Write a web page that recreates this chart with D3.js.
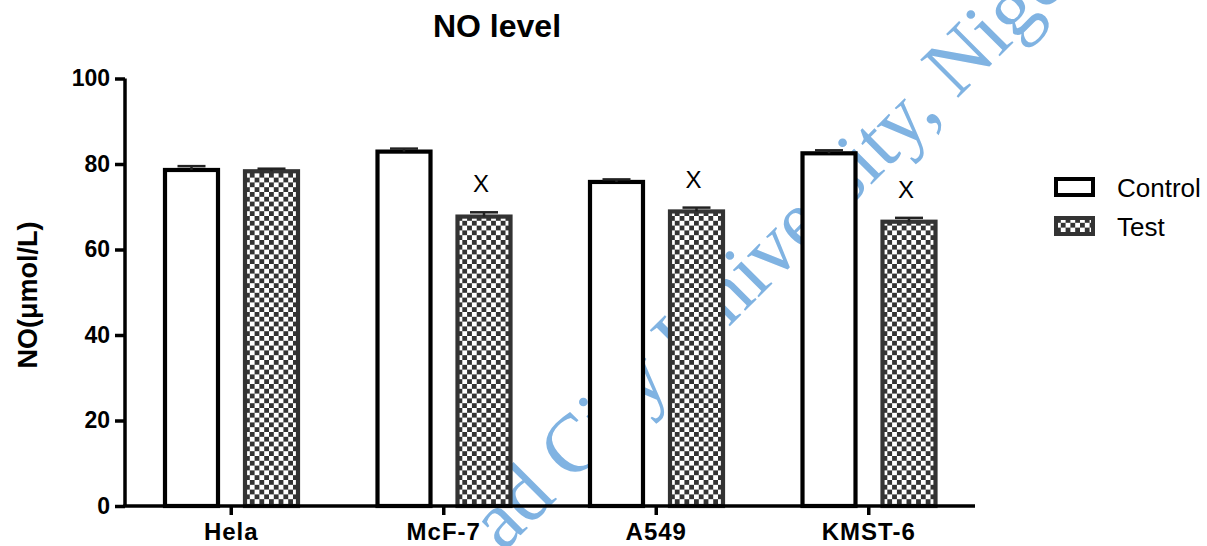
<!DOCTYPE html>
<meta charset="utf-8">
<script src="https://d3js.org/d3.v7.min.js"></script>
<style>
  body { margin: 0; background: #fff; }
  text { font-family: "Liberation Sans", Arial, Helvetica, sans-serif; }
</style>
<div id="my_dataviz"></div>
<script>

// data
var groups = ["Hela", "McF-7", "A549", "KMST-6"];
var seriesNames = ["Control", "Test"];
var controlValues = [78.6, 82.9, 75.8, 82.5];
var controlSem = [0.9, 0.7, 0.6, 0.7];
var testValues = [78.3, 67.7, 68.9, 66.5];
var testSem = [0.6, 1.0, 0.9, 0.9];
var testMarks = ["", "X", "X", "X"];
var yTicks = [0, 20, 40, 60, 80, 100];

var width = 1207, height = 546;

var svg = d3.select("#my_dataviz")
  .append("svg")
    .attr("width", width)
    .attr("height", height);

// checkerboard fill for the Test bars
var cell = 4.8;
var pat = svg.append("defs").append("pattern")
    .attr("id", "checker")
    .attr("patternUnits", "userSpaceOnUse")
    .attr("width", cell * 2)
    .attr("height", cell * 2);
pat.append("rect").attr("width", cell * 2).attr("height", cell * 2).attr("fill", "#fff");
pat.append("rect").attr("width", cell).attr("height", cell).attr("fill", "#333");
pat.append("rect").attr("x", cell).attr("y", cell).attr("width", cell).attr("height", cell).attr("fill", "#333");

// watermark from the source page, sits behind the bars
svg.append("text")
  .attr("transform", "translate(503,553) rotate(-45)")
  .style("font-family", "'Liberation Serif', 'Times New Roman', serif")
  .style("font-size", "82px")
  .attr("fill", "#80b3e2")
  .text("ad City University, Nigeria");

// scales
var x = d3.scaleBand()
  .domain(groups)
  .range([125, 975])
  .padding(0);

var xSub = d3.scaleBand()
  .domain(seriesNames)
  .range([40, 173])
  .paddingInner(0.3375);

var y = d3.scaleLinear()
  .domain([0, 100])
  .range([506, 78.5]);

var rows = groups.map(function(g, i) {
  return {
    group: g,
    bars: [
      {key: "Control", value: controlValues[i], sem: controlSem[i], mark: ""},
      {key: "Test", value: testValues[i], sem: testSem[i], mark: testMarks[i]}
    ]
  };
});

// bars
var gGroup = svg.append("g").selectAll("g")
  .data(rows)
  .enter()
  .append("g")
    .attr("transform", function(d) { return "translate(" + x(d.group) + ",0)"; });

var bar = gGroup.selectAll("g")
  .data(function(d) { return d.bars; })
  .enter()
  .append("g");

bar.append("rect")
    .attr("x", function(d) { return xSub(d.key); })
    .attr("y", function(d) { return y(d.value); })
    .attr("width", xSub.bandwidth())
    .attr("height", function(d) { return y(0) - y(d.value); })
    .attr("fill", function(d) { return d.key == "Test" ? "url(#checker)" : "#fff"; })
    .attr("stroke", function(d) { return d.key == "Test" ? "#333" : "#000"; })
    .attr("stroke-width", 4.2);

// error bars (upper only)
bar.append("line")
    .attr("x1", function(d) { return xSub(d.key) + xSub.bandwidth() / 2; })
    .attr("x2", function(d) { return xSub(d.key) + xSub.bandwidth() / 2; })
    .attr("y1", function(d) { return y(d.value); })
    .attr("y2", function(d) { return y(d.value + d.sem); })
    .attr("stroke", "#222")
    .attr("stroke-width", 2.5);
bar.append("line")
    .attr("x1", function(d) { return xSub(d.key) + xSub.bandwidth() / 2 - 14; })
    .attr("x2", function(d) { return xSub(d.key) + xSub.bandwidth() / 2 + 14; })
    .attr("y1", function(d) { return y(d.value + d.sem); })
    .attr("y2", function(d) { return y(d.value + d.sem); })
    .attr("stroke", "#222")
    .attr("stroke-width", 2.5);

// significance marks
bar.append("text")
    .attr("x", function(d) { return xSub(d.key) + xSub.bandwidth() / 2 - 3; })
    .attr("y", function(d) { return y(d.value + d.sem) - 20; })
    .attr("text-anchor", "middle")
    .attr("font-size", "24px")
    .attr("fill", "#000")
    .text(function(d) { return d.mark; });

// Y axis
var yAxis = svg.append("g")
  .attr("transform", "translate(125,0)")
  .call(d3.axisLeft(y).tickValues(yTicks).tickSize(10).tickPadding(5));
yAxis.select(".domain").attr("stroke-width", 3.5).attr("d", "M0," + y(0) + "V" + y(100));
yAxis.selectAll(".tick line").attr("stroke-width", 3.5);
yAxis.selectAll(".tick text")
  .attr("font-size", "23px")
  .attr("font-weight", "bold")
  .attr("fill", "#000");

// X axis
var xAxis = svg.append("g")
  .attr("transform", "translate(0," + y(0) + ")")
  .call(d3.axisBottom(x).tickSize(9).tickPadding(8));
xAxis.select(".domain").attr("stroke-width", 3.5).attr("d", "M123.25,0H975");
xAxis.selectAll(".tick line").attr("stroke-width", 3.5);
xAxis.selectAll(".tick text")
  .attr("font-size", "24px")
  .attr("font-weight", "bold")
  .attr("letter-spacing", "1px")
  .attr("fill", "#000");

// title and axis label
svg.append("text")
  .attr("x", 497)
  .attr("y", 37)
  .attr("text-anchor", "middle")
  .attr("font-size", "32px")
  .attr("font-weight", "bold")
  .text("NO level");

svg.append("text")
  .attr("transform", "translate(37," + 295 + ") rotate(-90)")
  .attr("text-anchor", "middle")
  .attr("font-size", "27px")
  .attr("font-weight", "bold")
  .text("NO(μmol/L)");

// legend
var legend = svg.append("g").selectAll("g")
  .data(seriesNames)
  .enter()
  .append("g")
    .attr("transform", function(d, i) { return "translate(1056," + (179 + i * 39) + ")"; });
legend.append("rect")
  .attr("width", 37)
  .attr("height", 16)
  .attr("fill", function(d) { return d == "Test" ? "url(#checker)" : "#fff"; })
  .attr("stroke", function(d) { return d == "Test" ? "#333" : "#000"; })
  .attr("stroke-width", 4);
legend.append("text")
  .attr("x", 61)
  .attr("y", 18)
  .attr("font-size", "26px")
  .text(function(d) { return d; });

</script>
